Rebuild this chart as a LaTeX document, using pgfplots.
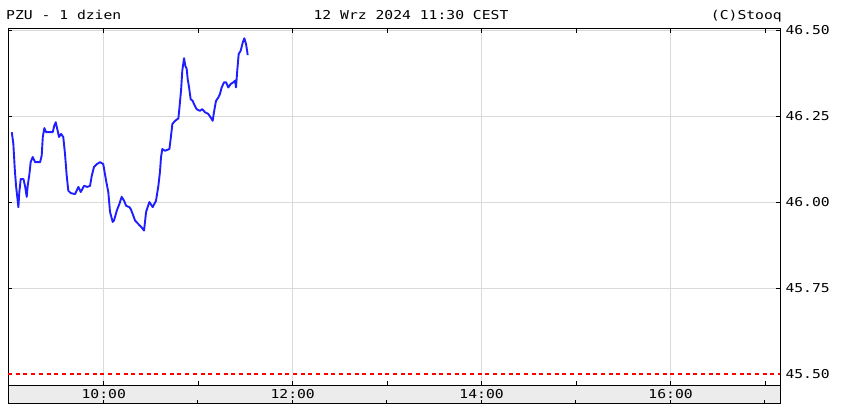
\documentclass[border=0pt]{standalone}
\usepackage{fontspec}
\setmainfont[FakeStretch=1.2]{DejaVu Sans Mono}
\usepackage{pgfplots}
\pgfplotsset{compat=1.18}
\definecolor{gridc}{HTML}{DADADA}
\definecolor{stripc}{HTML}{ECECEC}
\definecolor{lineblue}{HTML}{1E1EFF}
\definecolor{redc}{HTML}{FF0000}
\begin{document}
\begin{tikzpicture}
\useasboundingbox (-8bp,-20bp) rectangle (837bp,385bp);
\fill[stripc] (0,0) rectangle (772bp,-18bp);
\draw[line width=1bp] (0,0) rectangle (772bp,-18bp);
\foreach \xx in {95.3,189.8,284.3,378.8,473.3,567.8,662.3,756.8} {\draw[line width=1bp] (\xx bp,-18bp) -- (\xx bp,-15bp);}
\begin{axis}[
  at={(0,0)}, anchor=south west,
  scale only axis, width=772bp, height=356bp,
  xmin=-0.8, xmax=489.5, ymin=45.468, ymax=46.503,
  axis line style={line width=1bp},
  font=\fontsize{12.3}{14}\selectfont,
  xtick={60,180,300,420}, xticklabels={10:00,12:00,14:00,16:00},
  minor xtick={120,240,360,480},
  ytick={45.5,45.75,46,46.25,46.5},
  yticklabel pos=right, ytick pos=both, xtick pos=both, xticklabel pos=lower,
  tick align=inside,
  major tick length=4bp, minor tick length=4bp,
  every tick/.style={black, line width=1bp},
  xmajorgrids, ymajorgrids, grid style={gridc, line width=1bp},
  scaled y ticks=false,
  /pgf/number format/fixed, /pgf/number format/fixed zerofill,
  /pgf/number format/precision=2, /pgf/number format/assume math mode=true,
  yticklabel style={anchor=west, xshift=2bp},
  xticklabel style={anchor=center, yshift=-9bp},
  clip=true,
]
\addplot[draw=white, line width=1.5bp, forget plot] coordinates {(-0.8,45.5) (489.5,45.5)};
\addplot[draw=redc, line width=1.2bp, dash pattern=on 4bp off 3.7bp] coordinates {(-0.8,45.5) (489.5,45.5)};
\addplot[draw=lineblue, line width=1.9bp, line join=round] coordinates {
(1.6,46.203) (2.6,46.169) (3.5,46.096) (4.3,46.047) (5.8,45.985) (6.4,46.029)
(7.3,46.067) (9.0,46.067) (10.0,46.047) (11.1,46.015) (11.7,46.047) (12.8,46.081)
(13.6,46.116) (14.9,46.131) (16.4,46.116) (19.6,46.116) (20.6,46.135) (21.3,46.189)
(22.3,46.215) (23.4,46.203) (27.6,46.203) (28.6,46.222) (29.5,46.232) (30.5,46.212)
(31.6,46.189) (32.9,46.198) (34.3,46.189) (35.4,46.140) (36.5,46.076) (37.5,46.033)
(39.0,46.026) (41.8,46.023) (43.9,46.044) (45.4,46.029) (47.5,46.047) (49.6,46.044)
(51.3,46.047) (52.4,46.076) (53.8,46.102) (55.6,46.110) (57.7,46.116) (59.7,46.110)
(61.5,46.062) (62.9,46.029) (64.0,45.971) (65.7,45.942) (66.5,45.946) (68.3,45.975)
(69.9,45.994) (71.4,46.015) (72.9,46.004) (74.2,45.989) (76.3,45.985) (77.1,45.980)
(78.4,45.965) (79.9,45.946) (82.0,45.936) (84.1,45.926) (85.6,45.917) (86.9,45.971)
(89.0,46.000) (91.1,45.985) (93.2,46.004) (94.7,46.047) (95.7,46.087) (96.4,46.131)
(97.2,46.154) (98.9,46.149) (101.7,46.154) (102.5,46.183) (103.6,46.227) (105.3,46.236)
(107.4,46.243) (108.0,46.270) (109.1,46.324) (109.9,46.382) (111.0,46.418) (111.8,46.396)
(112.7,46.387) (113.3,46.358) (114.2,46.333) (115.2,46.299) (116.5,46.294) (117.3,46.285)
(119.0,46.270) (121.1,46.265) (122.6,46.270) (124.3,46.261) (126.4,46.256) (127.9,46.246)
(129.2,46.236) (130.0,46.261) (131.3,46.294) (132.8,46.304) (133.8,46.314) (134.9,46.333)
(136.4,46.348) (137.7,46.348) (139.1,46.333) (140.6,46.343) (142.3,46.348) (143.4,46.353)
(144.0,46.333) (144.8,46.382) (145.7,46.430) (147.0,46.440) (148.3,46.464) (149.3,46.476)
(150.4,46.459) (151.2,46.435) (151.4,46.427)
};
\end{axis}
\begin{scope}[font=\fontsize{12.3}{14}\selectfont]
\node[anchor=base west, inner sep=0] at (-2bp,365bp) {PZU - 1 dzien};
\node[anchor=base, inner sep=0] at (403bp,365bp) {12 Wrz 2024 11:30 CEST};
\node[anchor=base east, inner sep=0] at (774bp,365bp) {(C)Stooq};
\end{scope}
\end{tikzpicture}
\end{document}
